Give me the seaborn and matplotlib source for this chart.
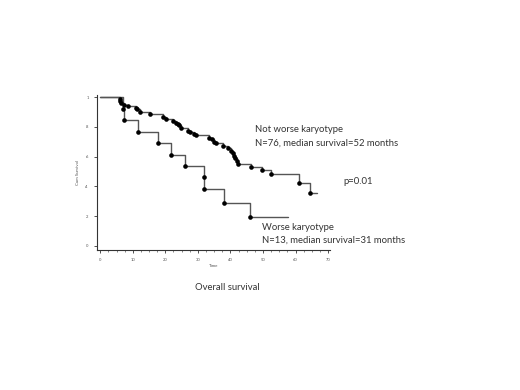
import matplotlib
matplotlib.use("Agg")
import matplotlib.pyplot as plt
import seaborn as sns
import pandas as pd
import numpy as np
from matplotlib.ticker import MultipleLocator

# ---- data ----
nw_time = [0, 6.0, 6.2, 6.4, 7.2, 8.6, 11.0, 11.3, 12.3, 15.3, 19.4, 20.2, 22.5, 23.3,
           23.9, 24.3, 24.8, 27.1, 27.7, 28.9, 29.4, 33.5, 34.3, 35.0, 35.5, 37.8,
           39.4, 40.2, 40.7, 41.1, 41.5, 41.9, 42.3, 46.3, 49.7, 52.5, 61.2, 64.4, 66.7]
nw_surv = [1.0, 0.987, 0.974, 0.96, 0.95, 0.94, 0.93, 0.92, 0.90, 0.886, 0.865, 0.852,
           0.84, 0.83, 0.818, 0.81, 0.79, 0.776, 0.765, 0.755, 0.744, 0.729, 0.717,
           0.70, 0.69, 0.673, 0.657, 0.641, 0.626, 0.608, 0.59, 0.572, 0.554, 0.534,
           0.511, 0.482, 0.422, 0.359, 0.359]
w_time = [0, 6.9, 7.4, 11.5, 17.7, 21.7, 26.1, 31.9, 32.0, 38.0, 45.9, 57.6]
w_surv = [1.0, 0.923, 0.846, 0.769, 0.692, 0.615, 0.538, 0.462, 0.385, 0.289, 0.192, 0.192]

x_ticks = [0, 10, 20, 30, 40, 50, 60, 70]
y_ticks = [0, 0.2, 0.4, 0.6, 0.8, 1.0]
y_tick_labels = ["0", ".2", ".4", ".6", ".8", "1"]

df_nw = pd.DataFrame({"time": nw_time, "surv": nw_surv})
df_w = pd.DataFrame({"time": w_time, "surv": w_surv})

sns.set_style("white")
plt.rcParams["font.family"] = ["Lato", "DejaVu Sans"]

W, H = 520, 390
fig = plt.figure(figsize=(W / 100, H / 100), dpi=100)
ax = fig.add_axes([97 / W, 1 - 250 / H, (330 - 97) / W, (250 - 95) / H])

line_col = "#555555"
sns.lineplot(data=df_nw, x="time", y="surv", drawstyle="steps-post", color=line_col,
             lw=1.0, ax=ax, estimator=None, sort=False)
sns.lineplot(data=df_w, x="time", y="surv", drawstyle="steps-post", color=line_col,
             lw=1.0, ax=ax, estimator=None, sort=False)
sns.scatterplot(data=df_nw.iloc[1:-1], x="time", y="surv", color="black", s=11,
                edgecolor="black", linewidth=0, ax=ax, zorder=3)
sns.scatterplot(data=df_w.iloc[1:-1], x="time", y="surv", color="black", s=11,
                edgecolor="black", linewidth=0, ax=ax, zorder=3)

ax.set_xlim(-1, 70.6)
ax.set_ylim(-0.027, 1.015)
ax.set_xticks(x_ticks)
ax.set_xticklabels([str(t) for t in x_ticks])
ax.set_yticks(y_ticks)
ax.set_yticklabels(y_tick_labels)
ax.xaxis.set_minor_locator(MultipleLocator(2.5))
ax.tick_params(axis="both", which="major", labelsize=3, length=2, width=0.6,
               color="#333333", labelcolor="#555555", pad=4, direction="out",
               bottom=True, left=True)
ax.tick_params(axis="x", which="minor", length=1.2, width=0.5, color="#555555",
               bottom=True)
ax.set_xlabel("Time", fontsize=3.2, color="#555555", labelpad=1)
ax.set_ylabel("Cum Survival", fontsize=3.2, color="#555555", labelpad=4)
for s in ["top", "right"]:
    ax.spines[s].set_visible(False)
for s in ["left", "bottom"]:
    ax.spines[s].set_color("#333333")
    ax.spines[s].set_linewidth(0.8)

txt_kw = dict(fontsize=6.8, color="#333333", va="center", ha="left")
fig.text(255 / W, 1 - 130 / H, "Not worse karyotype", **txt_kw)
fig.text(255 / W, 1 - 143 / H, "N=76, median survival=52 months", **txt_kw)
fig.text(343 / W, 1 - 182 / H, "p=0.01", **txt_kw)
fig.text(262 / W, 1 - 227 / H, "Worse karyotype", **txt_kw)
fig.text(262 / W, 1 - 240 / H, "N=13, median survival=31 months", **txt_kw)
fig.text(227 / W, 1 - 287 / H, "Overall survival", fontsize=6.8, color="#333333",
         va="center", ha="center")

fig.savefig("out.png", dpi=100)
